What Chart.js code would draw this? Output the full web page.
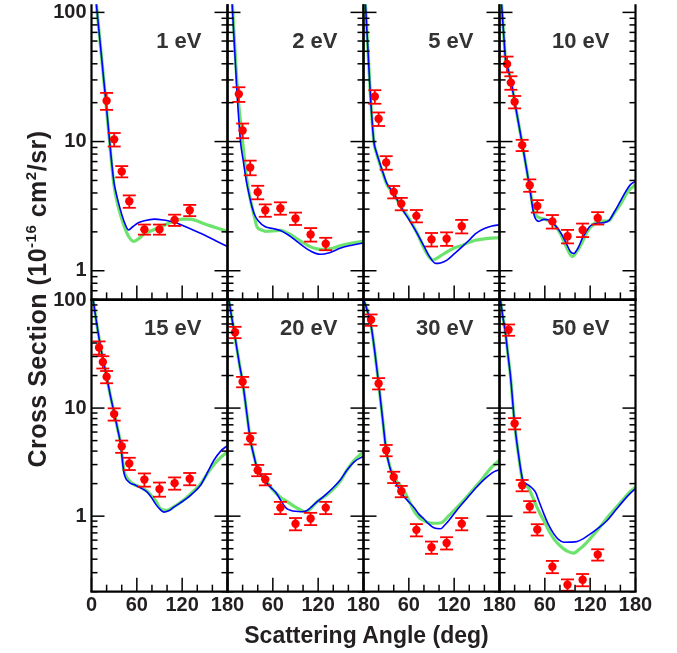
<!DOCTYPE html>
<html><head><meta charset="utf-8">
<script src="https://cdn.jsdelivr.net/npm/chart.js@4.4.1/dist/chart.umd.min.js"></script>
<style>
html,body{margin:0;padding:0;background:#fff;}
#wrap{position:relative;width:677px;height:653px;overflow:hidden;font-family:"Liberation Sans",Arial,sans-serif;}
canvas{position:absolute;left:0;top:0;}
.lbl{position:absolute;font-weight:bold;color:#231f20;white-space:nowrap;}
.plbl{position:absolute;font-weight:bold;color:#333;white-space:nowrap;font-size:22px;line-height:22px;width:120px;text-align:right;}
</style></head><body><div id="wrap"></div>
<script>
// ---------- data ----------
const energyLabels = ['1 eV','2 eV','5 eV','10 eV','15 eV','20 eV','30 eV','50 eV'];
const xTickValues = [0,20,40,60,80,100,120,140,160,180];
const xMajorTicks = [0,60,120,180];
const xLabelsFirst = [0,60,120,180];
const xLabelsOther = [60,120,180];
const yTicksTop = [0.6,0.7,0.8,0.9,1,2,3,4,5,6,7,8,9,10,20,30,40,50,60,70,80,90,100];
const yTicksBottom = [0.2,0.3,0.4,0.5,0.6,0.7,0.8,0.9,1,2,3,4,5,6,7,8,9,10,20,30,40,50,60,70,80,90,100];
const yMajorTicks = [1,10,100];
const yLabelValues = [1,10,100];

// 1 eV
const ang1Exp = [20,30,40,50,70,90,110,130];
const val1Exp = [20.7,10.4,5.87,3.45,2.09,2.09,2.47,2.94];
const err1Exp = [15,12,10,11,9,9,10,10];
const ang1Blue = [0,4,7.5,12,16,19,24,29.5,33,37,42.8,49,55,62,70,83,95,110,130,150,165,180];
const val1Blue = [280,162,100,54,31,20.7,10,4.93,3.9,3.15,2.44,2.07,2.2,2.35,2.44,2.51,2.47,2.37,2.12,1.88,1.70,1.54];
const ang1Green = [0,4,7.5,12,16,19,24,29.5,33,37,42.8,49,56,63,70,80,90,100,110,120,130,150,165,180];
const val1Green = [280,162,100,54,31,20.5,9.8,4.7,3.6,2.9,2.25,1.85,1.69,1.78,1.94,2.05,2.17,2.3,2.44,2.51,2.51,2.3,2.15,2.02];
// 2 eV
const ang2Exp = [15,20,30,40,50,70,90,110,130];
const val2Exp = [23.3,12.2,6.3,4.06,2.94,3.05,2.54,1.91,1.62];
const err2Exp = [13,13,13,12,11,11,11,12,11];
const ang2Blue = [0,3,6.2,9.5,12.8,17.2,21,25.1,29,32.6,36,40.6,50,60,70,80,90,100,110,123,135,150,163,180];
const val2Blue = [525,250,115,51,23,10,7.0,4.9,3.8,3.1,2.7,2.44,2.19,2.12,2.05,1.9,1.72,1.55,1.42,1.34,1.38,1.5,1.57,1.64];
const ang2Green = [0,3,6.5,10,13.5,20,24,27,31,35,39.3,45,50,60,70,80,90,100,110,120,130,140,150,165,180];
const val2Green = [500,250,115,50,24,10,6,4.5,3.4,2.7,2.17,2.07,2.02,2.03,2.05,1.95,1.8,1.65,1.53,1.47,1.46,1.5,1.57,1.64,1.69];
// 5 eV
const ang3Exp = [15,20,30,40,50,70,90,110,130];
const val3Exp = [22.3,15.0,6.88,4.08,3.30,2.66,1.75,1.77,2.21];
const err3Exp = [12,12,12,11,11,11,12,12,12];
const ang3Blue = [0,2.6,6,9.3,13.7,17,20.3,26,31.3,40,49,60,71,80,88,95.3,102,110.5,120,130.4,140,148,160,170,180];
const val3Blue = [220,115,50,22,10,8.3,7.2,5.7,4.7,4.0,3.15,2.5,1.95,1.55,1.27,1.14,1.15,1.21,1.35,1.53,1.73,1.93,2.12,2.22,2.27];
const ang3Green = [0,2.6,6,9.3,13.7,17,20.3,26,31.3,40,49,60,71,80,86,91.8,100,110.5,120,130,140,148,165,180];
const val3Green = [220,115,50,22,10,8.2,7.1,5.6,4.6,3.95,3.15,2.55,1.95,1.5,1.3,1.21,1.28,1.4,1.5,1.57,1.66,1.72,1.78,1.8];
// 10 eV
const ang4Exp = [10,15,20,30,40,50,70,90,110,130];
const val4Exp = [39.9,28.6,20.3,9.38,4.59,3.17,2.41,1.85,2.07,2.56];
const err4Exp = [14,12,11,10,11,11,12,12,12,11];
const ang4Blue = [0,2,3.5,6,8,10,15.9,20.3,30.4,40,45.4,52,58.7,64,69.7,75,80.7,88,94,98.3,104,109.4,115,120.4,130,137,144.7,152,160,167,173.4,180];
const val4Blue = [195,133,100,62,43,39,28,20,9.4,4.4,2.75,2.41,2.5,2.48,2.37,2.2,1.98,1.65,1.40,1.36,1.5,1.77,2.02,2.23,2.33,2.35,2.44,2.85,3.46,4.1,4.64,4.92];
const ang4Green = [0,2,3.5,6,8,10,15.9,20.3,30.4,40,45.4,52,60,69.7,75,80.7,88,96.2,102,109.4,115,120.4,130,137,144.7,152,160,170,180];
const val4Green = [195,133,100,62,43,39,28,20,9.4,4.4,2.9,2.58,2.5,2.37,2.18,1.93,1.55,1.29,1.4,1.66,1.95,2.17,2.4,2.42,2.44,2.8,3.27,4.1,4.64];
// 15 eV
const ang5Exp = [10,15,20,30,40,50,70,90,110,130];
const val5Exp = [36.3,26.7,19.5,8.8,4.43,3.07,2.18,1.78,2.02,2.22];
const err5Exp = [14,13,13,13,13,13,14,15,13,13];
const ang5Blue = [0,2.2,5,7.5,11.9,16,20,25,30,35,38.4,42.8,49.4,57,64.9,73.7,79,84.7,90,95.7,102,108.9,117,125.7,135,144.3,153,162,171,180];
const val5Blue = [126,100,74,56.9,37,26.5,19.5,13,9,6.2,4.7,2.56,2.07,1.95,1.83,1.67,1.5,1.30,1.17,1.09,1.12,1.21,1.32,1.45,1.65,1.93,2.5,3.29,4.0,4.5];
const ang5Green = [0,2.2,5,7.5,11.9,16,20,25,30,35,38.4,42.8,49.4,56,65,73.7,79,84.7,91.3,100,108.9,117,125.7,135,144.3,153,162,171,180];
const val5Green = [126,100,74,56.9,37,26.5,19.5,13,9,6.2,4.8,2.7,2.15,1.97,1.85,1.7,1.55,1.4,1.17,1.13,1.22,1.33,1.48,1.7,1.98,2.45,3.0,3.5,3.93];
// 20 eV
const ang6Exp = [10,20,30,40,50,70,90,110,130];
const val6Exp = [50.4,17.5,5.23,2.66,2.19,1.2,0.85,0.95,1.2];
const err6Exp = [12,11,12,12,12,13,13,13,13];
const ang6Blue = [0,1.8,5,8.4,12,16,20,25,30,35,40,46,52.5,58,63.5,70,75,79,84,90,97,103,110,118,130,140.7,150,158,168,180];
const val6Blue = [119,100,73,53,37,25,17.5,9.6,5.2,3.6,2.66,2.3,2.0,1.82,1.67,1.42,1.25,1.17,1.13,1.11,1.1,1.11,1.2,1.35,1.58,1.86,2.2,2.66,3.2,3.58];
const ang6Green = [0,1.8,5,8.4,12,16,20,25,30,35,40,46,52.5,60,70,80,90,97,103,110,118,130,140.7,150,158,168,180];
const val6Green = [119,100,73,53,37,25,17.5,9.6,5.3,3.6,2.7,2.35,2.06,1.75,1.5,1.35,1.21,1.14,1.09,1.17,1.35,1.55,1.8,2.15,2.66,3.3,3.93];
// 30 eV
const ang7Exp = [10,20,30,40,50,70,90,110,130];
const val7Exp = [65.6,16.9,4.07,2.3,1.7,0.747,0.515,0.565,0.85];
const err7Exp = [12,12,12,12,12,13,13,13,13];
const ang7Blue = [0,5,10,15,20,25,30,35,40,45,50.7,58,66.6,73,79.8,86,93,101.9,107,113,122,130.6,140,148,157,166,173,180];
const val7Blue = [102,80,58,33,16.9,8.3,4.07,2.8,2.25,1.9,1.61,1.4,1.21,1.05,0.946,0.85,0.78,0.764,0.82,0.912,1.1,1.3,1.55,1.8,2.1,2.39,2.58,2.7];
const ang7Green = [0,5,10,15,20,25,30,35,40,45,50.7,58,66.6,73,79.8,86,93,103,113,122,130.6,140,148,157,166,173,180];
const val7Green = [102,80,58,33,16.9,8.3,4.1,2.85,2.3,2.05,1.86,1.5,1.13,0.98,0.91,0.87,0.86,0.87,1.01,1.17,1.35,1.6,1.86,2.2,2.66,3.0,3.29];
// 50 eV
const ang8Exp = [12,20,30,40,50,70,90,110,130];
const val8Exp = [53,7.21,1.93,1.23,0.752,0.341,0.232,0.258,0.441];
const err8Exp = [12,12,12,12,12,13,12,13,12];
const ang8Blue = [0,1.3,4,7.9,11,14.6,20,25.6,30.9,34,38.8,43,47.6,53,58.7,65,71.9,78,85,94,102.8,111,120.4,131,142.5,153,164.5,172,180];
const val8Blue = [115,100,73,49.4,32,19.5,7.2,3.53,2.14,2.02,1.93,1.82,1.67,1.33,1.05,0.83,0.686,0.61,0.574,0.575,0.582,0.62,0.686,0.78,0.912,1.12,1.4,1.6,1.8];
const ang8Green = [0,1.3,4,7.9,11,14.6,20,25.6,30.9,34,38.8,43,47.6,53,58.7,65,71.9,78,85,91,98.3,105,111.6,120,129.3,138,147,156,164.5,172,180];
const val8Green = [115,100,73,49.4,32,19.5,7.2,3.5,2.07,1.95,1.8,1.55,1.3,1.08,0.91,0.74,0.617,0.55,0.498,0.47,0.454,0.49,0.535,0.62,0.737,0.88,1.05,1.24,1.45,1.66,1.86];

// ---------- layout ----------
const W = 677, H = 653;
const colEdges = [91.5, 227.5, 363.5, 499.5, 635.5];
const rows = [
  {top: 0, bottom: 299.4, min: 0.6, max: 115.7, ticks: yTicksTop, labelY: 41},
  {top: 300, bottom: 591.7, min: 0.2, max: 100, ticks: yTicksBottom, labelY: 327.5}
];
const panels = [
  [ang1Exp,val1Exp,err1Exp,ang1Blue,val1Blue,ang1Green,val1Green],
  [ang2Exp,val2Exp,err2Exp,ang2Blue,val2Blue,ang2Green,val2Green],
  [ang3Exp,val3Exp,err3Exp,ang3Blue,val3Blue,ang3Green,val3Green],
  [ang4Exp,val4Exp,err4Exp,ang4Blue,val4Blue,ang4Green,val4Green],
  [ang5Exp,val5Exp,err5Exp,ang5Blue,val5Blue,ang5Green,val5Green],
  [ang6Exp,val6Exp,err6Exp,ang6Blue,val6Blue,ang6Green,val6Green],
  [ang7Exp,val7Exp,err7Exp,ang7Blue,val7Blue,ang7Green,val7Green],
  [ang8Exp,val8Exp,err8Exp,ang8Blue,val8Blue,ang8Green,val8Green]
];
const zip = (a, b) => a.map((x, i) => ({x, y: b[i]}));
const textColor = '#231f20';
const tickFont = {family: '"Liberation Sans", Arial, sans-serif', size: 20, weight: 'bold'};

function seg(ctx, x1, y1, x2, y2) { ctx.beginPath(); ctx.moveTo(x1, y1); ctx.lineTo(x2, y2); ctx.stroke(); }

const errorBarPlugin = {
  id: 'errbars',
  afterDatasetsDraw(chart, args, opts) {
    const {ctx} = chart; const x = chart.scales.x, y = chart.scales.y;
    const ds = chart.data.datasets[0];
    ctx.save(); ctx.strokeStyle = '#ff0000'; ctx.lineWidth = 1.8;
    ds.data.forEach((p, i) => {
      const e = opts.err[i] / 100;
      const px = x.getPixelForValue(p.x);
      const y1 = y.getPixelForValue(p.y * (1 + e)), y2 = y.getPixelForValue(p.y * (1 - e));
      seg(ctx, px, y1, px, y2);
      seg(ctx, px - 6.5, y1, px + 6.5, y1);
      seg(ctx, px - 6.5, y2, px + 6.5, y2);
    });
    ctx.restore();
  }
};
const framePlugin = {
  id: 'frame',
  afterDatasetsDraw(chart, args, opts) {
    const {ctx, chartArea: {left, right, top, bottom}} = chart;
    const x = chart.scales.x, y = chart.scales.y;
    ctx.save(); ctx.strokeStyle = '#000'; ctx.lineWidth = 1.5;
    opts.yTicks.forEach(v => {
      const py = y.getPixelForValue(v);
      const len = yMajorTicks.includes(v) ? 13 : 6;
      seg(ctx, left, py, left + len, py);
      seg(ctx, right, py, right - len, py);
    });
    xTickValues.forEach(v => {
      const px = x.getPixelForValue(v);
      const len = xMajorTicks.includes(v) ? 14 : 7;
      seg(ctx, px, bottom, px, bottom - len);
    });
    ctx.lineWidth = 2.2;
    seg(ctx, left, top, left, bottom);
    seg(ctx, right, top, right, bottom);
    seg(ctx, left - 1.1, bottom, right + 1.1, bottom);
    if (opts.drawTop) seg(ctx, left - 1.1, top, right + 1.1, top);
    ctx.restore();
  }
};

const wrap = document.getElementById('wrap');
panels.forEach((p, k) => {
  const r = Math.floor(k / 4), c = k % 4;
  const row = rows[r];
  const L = colEdges[c], R = colEdges[c + 1];
  const yAxisW = c === 0 ? L : 0;
  const xAxisH = r === 1 ? H - row.bottom : 0;
  const cv = document.createElement('canvas');
  cv.width = W; cv.height = H; cv.style.width = W + 'px'; cv.style.height = H + 'px';
  wrap.appendChild(cv);
  const xLabels = c === 0 ? xLabelsFirst : xLabelsOther;
  new Chart(cv, {
    type: 'line',
    data: {datasets: [
      {data: zip(p[0], p[1]), showLine: false, pointRadius: 4.2, pointBackgroundColor: '#ff0000', pointBorderWidth: 0, order: 0},
      {data: zip(p[3], p[4]), borderColor: '#0000ff', borderWidth: 1.6, pointRadius: 0, cubicInterpolationMode: 'monotone', order: 1},
      {data: zip(p[5], p[6]), borderColor: 'rgba(100,225,100,0.95)', borderWidth: 3.2, pointRadius: 0, cubicInterpolationMode: 'monotone', order: 2}
    ]},
    options: {
      responsive: false, animation: false, devicePixelRatio: 1,
      layout: {padding: {left: L - yAxisW, right: W - R, top: row.top, bottom: H - row.bottom - xAxisH}},
      plugins: {legend: {display: false}, tooltip: {enabled: false},
        errbars: {err: p[2]},
        frame: {yTicks: row.ticks, drawTop: r === 1}},
      scales: {
        x: {type: 'linear', min: 0, max: 180,
          grid: {display: false, drawTicks: false}, border: {display: false},
          afterBuildTicks: s => { s.ticks = xTickValues.map(v => ({value: v})); },
          afterFit: s => { s.height = xAxisH; s.paddingLeft = 0; s.paddingRight = 0; s.paddingTop = 0; s.paddingBottom = 0; },
          ticks: {display: r === 1, autoSkip: false, maxRotation: 0, minRotation: 0, padding: 2,
            font: tickFont, color: textColor,
            callback: v => xLabels.includes(v) ? String(v) : ''}},
        y: {type: 'logarithmic', min: row.min, max: row.max,
          grid: {display: false, drawTicks: false}, border: {display: false},
          afterBuildTicks: s => { s.ticks = row.ticks.map(v => ({value: v})); },
          afterFit: s => { s.width = yAxisW; s.paddingLeft = 0; s.paddingRight = 0; s.paddingTop = 0; s.paddingBottom = 0; },
          ticks: {display: c === 0, autoSkip: false, padding: 5, font: tickFont, color: textColor,
            callback: v => yLabelValues.includes(v) ? String(v) : ''}}
      }
    },
    plugins: [errorBarPlugin, framePlugin]
  });
  const lab = document.createElement('div');
  lab.className = 'plbl';
  lab.textContent = energyLabels[k];
  lab.style.left = (R - 26 - 120) + 'px';
  lab.style.top = (row.labelY - 11) + 'px';
  wrap.appendChild(lab);
});

const yt = document.createElement('div');
yt.className = 'lbl';
yt.style.cssText += 'font-size:25px;line-height:25px;letter-spacing:0.5px;width:440px;text-align:center;left:' + (34.3 - 220) + 'px;top:' + (295 - 12.5) + 'px;transform:rotate(-90deg);';
yt.innerHTML = 'Cross Section (10<sup style="font-size:15px;vertical-align:10px">-16</sup> cm<sup style="font-size:15px;vertical-align:10px">2</sup>/sr)';
wrap.appendChild(yt);
const xt = document.createElement('div');
xt.className = 'lbl';
xt.style.cssText += 'font-size:23px;line-height:23px;width:400px;text-align:center;left:' + (366.5 - 200) + 'px;top:623.5px;';
xt.textContent = 'Scattering Angle (deg)';
wrap.appendChild(xt);
</script></body></html>
